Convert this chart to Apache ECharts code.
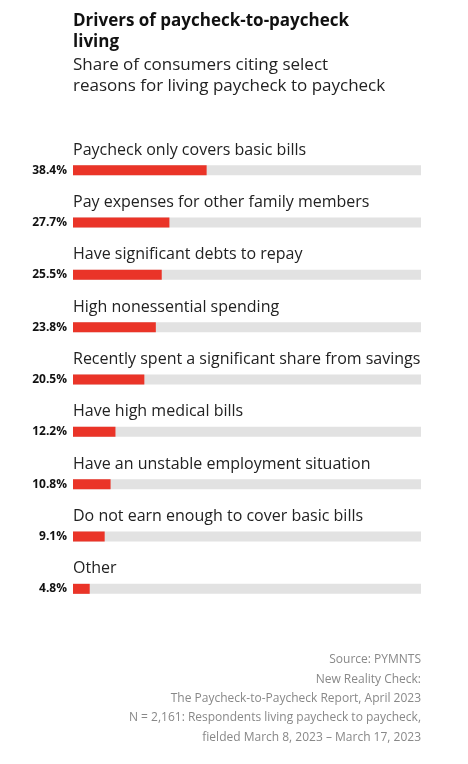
<!DOCTYPE html>
<html><head><meta charset="utf-8">
<script src="https://cdn.jsdelivr.net/npm/echarts@6/dist/echarts.min.js"></script>
<style>html,body{margin:0;padding:0;background:#fff}#c{width:468px;height:764px}</style>
</head><body><div id="c"></div>
<script>
const categories = ["Paycheck only covers basic bills","Pay expenses for other family members","Have significant debts to repay","High nonessential spending","Recently spent a significant share from savings","Have high medical bills","Have an unstable employment situation","Do not earn enough to cover basic bills","Other"];
const values = [38.4,27.7,25.5,23.8,20.5,12.2,10.8,9.1,4.8];
const footer = ["Source: PYMNTS","New Reality Check:","The Paycheck-to-Paycheck Report, April 2023","N = 2,161: Respondents living paycheck to paycheck,","fielded March 8, 2023 – March 17, 2023"];
const ff = "Open Sans, Roboto, sans-serif";
const chart = echarts.init(document.getElementById('c'));
chart.setOption({
  animation:false,
  title:{text:"Drivers of paycheck-to-paycheck\nliving",left:68,top:6,
    textStyle:{fontFamily:ff,fontSize:17,fontWeight:'bold',color:'#111',lineHeight:21},
    subtext:"Share of consumers citing select\nreasons for living paycheck to paycheck",
    subtextStyle:{fontFamily:ff,fontSize:17,color:'#222',lineHeight:21},itemGap:2},
  grid:{left:73,right:47,top:144,bottom:149},
  xAxis:{type:'value',min:0,max:100,show:false},
  yAxis:{type:'category',inverse:true,data:categories,axisLine:{show:false},axisTick:{show:false},
    axisLabel:{margin:6,fontFamily:ff,fontSize:12,fontWeight:'bold',color:'#111',
      formatter:(v,i)=>values[i].toFixed(1)+'%'}},
  series:[{type:'bar',data:values,barWidth:10,itemStyle:{color:'#ea3428'},
    showBackground:true,backgroundStyle:{color:'#e2e2e2'},
    label:{show:true,position:[0,-23],fontFamily:ff,fontSize:16,color:'#222',
      formatter:p=>categories[p.dataIndex]}}],
  graphic:footer.map((t,i)=>({type:'text',right:47,top:654+i*19.3,
    style:{text:t,fontFamily:ff,fontSize:12,fill:'#888',textAlign:'right'}}))
});
</script></body></html>
